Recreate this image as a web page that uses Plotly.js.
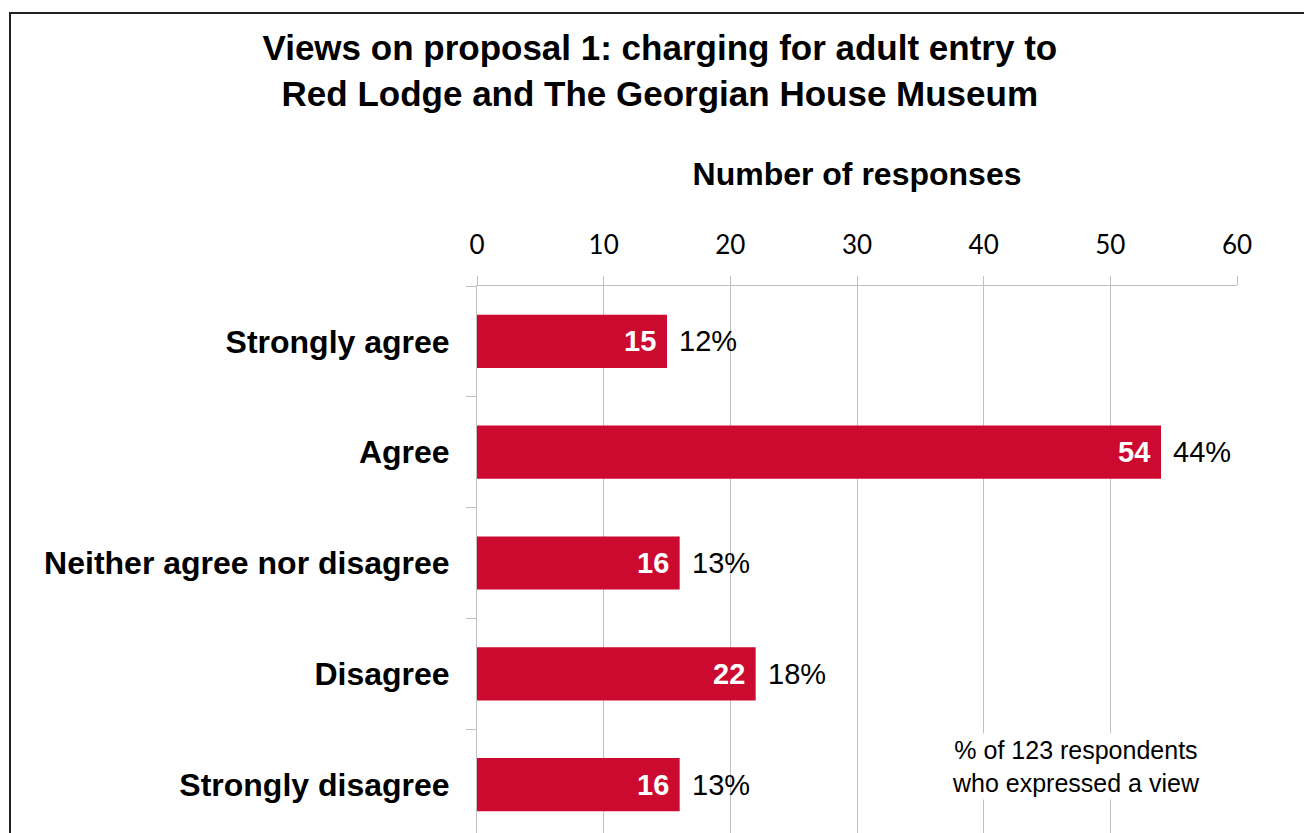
<!DOCTYPE html>
<html>
<head>
<meta charset="utf-8">
<script src="https://cdn.plot.ly/plotly-3.0.1.min.js"></script>
<style>
  html, body { margin: 0; padding: 0; overflow: hidden; background: #fff; }
  #wrap { position: relative; width: 1304px; height: 833px; overflow: hidden; }
  #chart { position: absolute; left: 0; top: 0; }
  #frame { position: absolute; left: 9px; top: 12px; width: 1400px; height: 1000px;
           border-left: 2px solid #222; border-top: 2px solid #222; pointer-events: none; }
</style>
</head>
<body>
<div id="wrap">
  <div id="chart"></div>
  <div id="frame"></div>
</div>
<script>
const categories = ["Strongly agree", "Agree", "Neither agree nor disagree", "Disagree", "Strongly disagree"];
const responses = [15, 54, 16, 22, 16];
const percentages = [12, 44, 13, 18, 13];
const xTicks = [0, 10, 20, 30, 40, 50, 60];
const titleText = "Views on proposal 1: charging for adult entry to<br>Red Lodge and The Georgian House Museum";
const axisTitle = "Number of responses";
const noteText = "% of 123 respondents<br>who expressed a view";

const barColor = "#cc0a2f";
const gridColor = "#c0c0c0";
const arial = "Liberation Sans, Arial, sans-serif";

const trace = {
  type: "bar",
  orientation: "h",
  y: categories,
  x: responses,
  width: 0.48,
  marker: { color: barColor, line: { width: 0 } },
  hoverinfo: "x+y",
  showlegend: false
};

const annotations = [];
categories.forEach((c, i) => {
  annotations.push({
    x: responses[i], y: c, xref: "x", yref: "y",
    text: String(responses[i]), showarrow: false,
    xanchor: "right", yanchor: "middle", xshift: -9,
    font: { family: arial, size: 29, color: "#ffffff", weight: "bold" }
  });
  annotations.push({
    x: responses[i], y: c, xref: "x", yref: "y",
    text: percentages[i] + "%", showarrow: false,
    xanchor: "left", yanchor: "middle", xshift: 10,
    font: { family: arial, size: 29, color: "#000000" }
  });
});
annotations.push({
  x: 0.788, y: 0.132, xref: "paper", yref: "paper",
  text: noteText, showarrow: false, xanchor: "center", yanchor: "middle",
  bgcolor: "#ffffff", borderpad: 2,
  font: { family: arial, size: 25, color: "#000000" }
});

const layout = {
  width: 1304,
  height: 870,
  margin: { l: 477, r: 67, t: 286, b: 30 },
  paper_bgcolor: "#ffffff",
  plot_bgcolor: "#ffffff",
  title: {
    text: titleText,
    x: 0.506, xref: "container", xanchor: "center",
    y: 1 - 60 / 870, yref: "container", yanchor: "middle",
    font: { family: arial, size: 35, color: "#000000", weight: "bold" }
  },
  xaxis: {
    side: "top",
    range: [0, 60],
    tickvals: xTicks,
    ticktext: xTicks.map(String),
    showgrid: true, gridcolor: gridColor, gridwidth: 1,
    zeroline: false,
    showline: true, linecolor: gridColor, linewidth: 1,
    ticks: "outside", ticklen: 9, tickcolor: gridColor,
    ticklabelstandoff: 12,
    tickfont: { family: "Lato, sans-serif", size: 26, color: "#000000" },
    title: {
      text: axisTitle, standoff: 32,
      font: { family: arial, size: 32, color: "#000000", weight: "bold" }
    },
    fixedrange: true
  },
  yaxis: {
    type: "category",
    categoryorder: "array",
    categoryarray: categories,
    autorange: "reversed",
    showgrid: false,
    zeroline: false,
    showline: true, linecolor: gridColor, linewidth: 1,
    ticks: "outside", tickson: "boundaries", ticklen: 10, tickcolor: gridColor,
    ticklabelstandoff: 20,
    tickfont: { family: arial, size: 32, color: "#000000", weight: "bold" },
    fixedrange: true
  },
  annotations: annotations,
  bargap: 0.52
};

Plotly.newPlot("chart", [trace], layout, { displayModeBar: false, staticPlot: true });
</script>
</body>
</html>
